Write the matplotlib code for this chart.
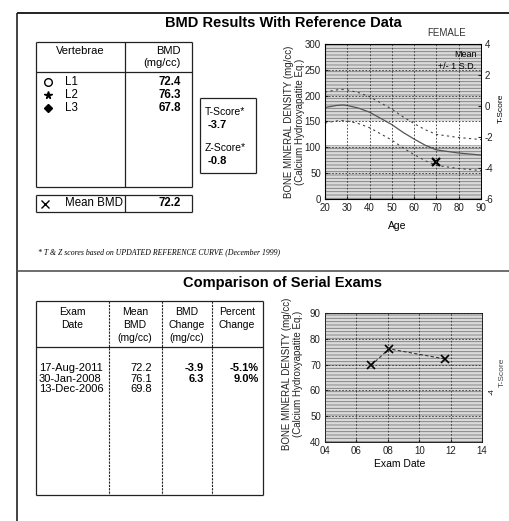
import matplotlib
matplotlib.use("Agg")
import matplotlib.pyplot as plt
from matplotlib.ticker import FuncFormatter

plt.rcParams['font.family'] = ['Liberation Sans', 'DejaVu Sans']
plt.rcParams['axes.unicode_minus'] = False
plt.rcParams['hatch.linewidth'] = 0.6

# --- data ---
vert_labels = ['L1', 'L2', 'L3']
vert_markers = ['o', '*', 'D']
vert_bmd = [72.4, 76.3, 67.8]
mean_bmd = 72.2
t_score = '-3.7'
z_score = '-0.8'
patient_age = 70

ref_age = [20, 25, 28, 30, 35, 40, 45, 50, 55, 60, 65, 70, 75, 80, 85, 90]
ref_mean = [177, 181, 182, 181, 176, 168, 156, 144, 129, 116, 104, 95, 92, 89, 87, 85]
ref_sd = 30
t_ref_mean = 180   # young adult mean, used for the T-score axis

exam_dates = ['17-Aug-2011', '30-Jan-2008', '13-Dec-2006']
exam_year = [2011.63, 2008.08, 2006.95]
exam_bmd = [72.2, 76.1, 69.8]
bmd_change = ['-3.9', '6.3', '']
pct_change = ['-5.1%', '9.0%', '']

W, H = 509, 521
fig = plt.figure(figsize=(W / 100, H / 100), dpi=100)

# page overlay in pixel coords (y down)
pg = fig.add_axes([0, 0, 1, 1])
pg.set_xlim(0, W)
pg.set_ylim(H, 0)
pg.axis('off')

def line(x0, y0, x1, y1, lw=0.9, ls='-', c='#222222'):
    pg.plot([x0, x1], [y0, y1], color=c, lw=lw, ls=ls, solid_capstyle='butt')

def rect(x0, y0, x1, y1, lw=0.9):
    line(x0, y0, x1, y0, lw); line(x0, y1, x1, y1, lw)
    line(x0, y0, x0, y1, lw); line(x1, y0, x1, y1, lw)

# page frame and separator
line(17, 13, W, 13, lw=1.4)
line(17, 13, 17, H, lw=1.2)
line(17, 271, W, 271, lw=1.2, c='#555555')

pg.text(283, 23, 'BMD Results With Reference Data', ha='center', va='center',
        fontsize=10.5, fontweight='bold')
pg.text(283, 283, 'Comparison of Serial Exams', ha='center', va='center',
        fontsize=10.5, fontweight='bold')

# vertebrae table
rect(36, 42, 192, 187)
line(36, 72, 192, 72)
line(125, 42, 125, 187)
pg.text(80, 51, 'Vertebrae', ha='center', va='center', fontsize=8)
pg.text(181, 51, 'BMD', ha='right', va='center', fontsize=8)
pg.text(181, 63, '(mg/cc)', ha='right', va='center', fontsize=8)
for i, (lab, mk, v) in enumerate(zip(vert_labels, vert_markers, vert_bmd)):
    y = 82 + i * 13
    filled = 'none' if mk == 'o' else 'black'
    pg.plot(48, y, marker=mk, ms=5.5 if mk != 'D' else 3.8, mfc=filled, mec='black', mew=1)
    pg.text(65, y, lab, ha='left', va='center', fontsize=8.3)
    pg.text(181, y, f'{v:.1f}', ha='right', va='center', fontsize=8.3, fontweight='bold')

rect(36, 195, 192, 212)
line(125, 195, 125, 212)
pg.plot(45, 203.5, marker='x', ms=5.5, color='black', mew=1)
pg.text(65, 203.5, 'Mean BMD', ha='left', va='center', fontsize=8.3)
pg.text(181, 203.5, f'{mean_bmd:.1f}', ha='right', va='center', fontsize=8.3, fontweight='bold')

# score box
rect(200, 98, 256, 173)
pg.text(205, 112, 'T-Score*', ha='left', va='center', fontsize=7.5)
pg.text(208, 125, t_score, ha='left', va='center', fontsize=8, fontweight='bold')
pg.text(205, 148, 'Z-Score*', ha='left', va='center', fontsize=7.5)
pg.text(208, 161, z_score, ha='left', va='center', fontsize=8, fontweight='bold')

pg.text(38, 252, '* T & Z scores based on UPDATED REFERENCE CURVE (December 1999)',
        ha='left', va='center', fontsize=5.6, style='italic', family='Liberation Serif')

# serial exam table
rect(36, 301, 263, 495)
line(36, 347, 263, 347)
for x in [109, 162, 212]:
    line(x, 301, x, 495, lw=0.8, ls=(0, (2, 1)))
heads = [(72, ['Exam', 'Date']), (135, ['Mean', 'BMD', '(mg/cc)']),
         (187, ['BMD', 'Change', '(mg/cc)']), (237, ['Percent', 'Change'])]
for cx, words in heads:
    for j, w in enumerate(words):
        pg.text(cx, 312 + j * 13, w, ha='center', va='center', fontsize=7.5)
for i in range(len(exam_dates)):
    y = 368 + i * 10.5
    pg.text(39, y, exam_dates[i], ha='left', va='center', fontsize=8)
    pg.text(152, y, f'{exam_bmd[i]:.1f}', ha='right', va='center', fontsize=8)
    pg.text(204, y, bmd_change[i], ha='right', va='center', fontsize=8, fontweight='bold')
    pg.text(259, y, pct_change[i], ha='right', va='center', fontsize=8, fontweight='bold')

# chart side texts
pg.text(447, 33, 'FEMALE', ha='center', va='center', fontsize=7, color='#333333')
for xs, ys in [(289, 122), (287, 374)]:
    pg.text(xs, ys, 'BONE MINERAL DENSITY (mg/cc)', rotation=90, ha='center', va='center',
            fontsize=7, color='#222222')
    pg.text(xs + 11, ys, '(Calcium Hydroxyapatite Eq.)', rotation=90, ha='center', va='center',
            fontsize=7, color='#222222')
pg.text(397, 226, 'Age', ha='center', va='center', fontsize=7.5)
pg.text(400, 464, 'Exam Date', ha='center', va='center', fontsize=7.5)
pg.text(501, 108, 'T-Score', rotation=90, ha='center', va='center', fontsize=6)
pg.text(502, 372, 'T-Score', rotation=90, ha='center', va='center', fontsize=6, color='#444444')

def shade(ax, lo, hi):
    ax.axhspan(lo, hi, facecolor='#dadada', edgecolor='#7a7a7a', hatch='-----', lw=0, zorder=0)

def style(ax):
    ax.tick_params(direction='in', length=2, labelsize=7, pad=3, colors='#222222')
    ax.grid(True, color='#333333', ls=(0, (2, 2)), lw=0.6)
    ax.set_axisbelow(False)
    for s in ax.spines.values():
        s.set_linewidth(0.6)

# reference curve chart
ax1 = fig.add_axes([325 / W, 1 - 199 / H, 156 / W, 155 / H])
shade(ax1, 0, 105)
shade(ax1, 150, 300)
ax1.plot(ref_age, ref_mean, color='#555555', lw=0.9)
ax1.plot(ref_age, [m + ref_sd for m in ref_mean], color='#444444', lw=0.8, ls=(0, (2, 3)))
ax1.plot(ref_age, [m - ref_sd for m in ref_mean], color='#444444', lw=0.8, ls=(0, (2, 3)))
ax1.plot(patient_age, mean_bmd, marker='x', ms=6, mew=1.6, color='black')
ax1.set_xlim(20, 90)
ax1.set_ylim(0, 300)
ax1.set_xticks(range(20, 91, 10))
ax1.set_yticks(range(0, 301, 50))
style(ax1)
ax1.text(0.97, 0.93, 'Mean', transform=ax1.transAxes, ha='right', va='center', fontsize=6.5)
ax1.text(0.97, 0.855, '+/- 1 S.D.', transform=ax1.transAxes, ha='right', va='center', fontsize=6.5)
t1 = ax1.twinx()
t1.set_ylim((0 - t_ref_mean) / ref_sd, (300 - t_ref_mean) / ref_sd)
t1.set_yticks(range(-6, 5, 2))
t1.tick_params(direction='in', length=2, labelsize=7, pad=2.5, colors='#222222')
t1.spines['right'].set_linewidth(0.6)

# serial exam chart
ax2 = fig.add_axes([325 / W, 1 - 442 / H, 157 / W, 129 / H])
shade(ax2, 40, 90)
ax2.plot(exam_year, exam_bmd, color='#333333', lw=0.8, ls=(0, (3, 2)))
ax2.plot(exam_year, exam_bmd, ls='none', marker='x', ms=6, mew=1.2, color='black')
ax2.set_xlim(2004, 2014)
ax2.set_ylim(40, 90)
ax2.set_xticks(range(2004, 2015, 2))
ax2.xaxis.set_major_formatter(FuncFormatter(lambda v, p: f'{int(v) % 100:02d}'))
ax2.set_yticks(range(40, 91, 10))
style(ax2)
t2 = ax2.twinx()
t2.set_ylim((40 - t_ref_mean) / ref_sd, (90 - t_ref_mean) / ref_sd)
t2.set_yticks([-4])
t2.tick_params(length=0, labelsize=5.5, pad=5, colors='#222222')
for lab in t2.get_yticklabels():
    lab.set_rotation(90)
for s in t2.spines.values():
    s.set_visible(False)

fig.savefig('out.png', dpi=100)
